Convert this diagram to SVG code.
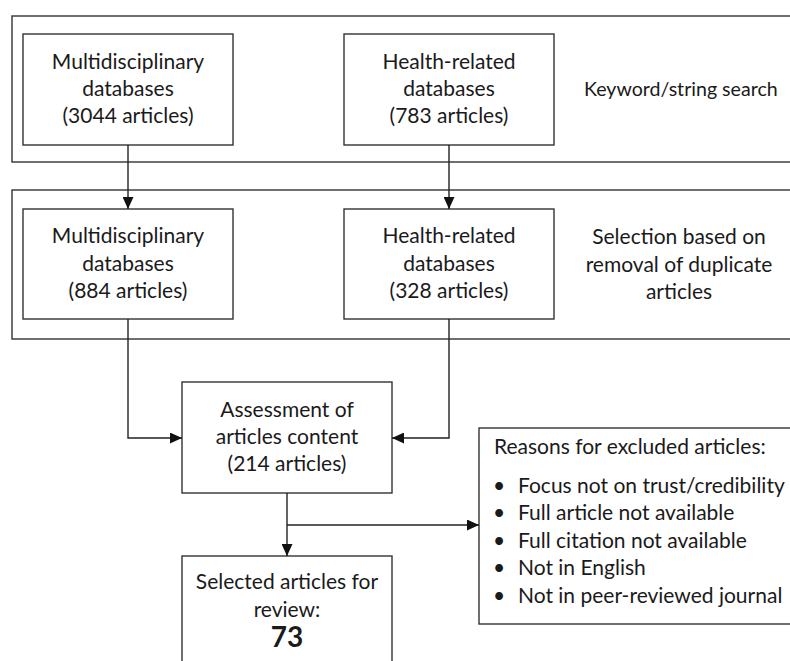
<svg xmlns="http://www.w3.org/2000/svg" width="790" height="661" viewBox="0 0 790 661">
<defs>
<style>
.box{fill:#fff;stroke:#333;stroke-width:1.4}
.frame{fill:none;stroke:#333;stroke-width:1.4}
.t{font-family:Lato,"Liberation Sans",sans-serif;font-size:21px;fill:#1a1a1a;text-anchor:middle}
.l{text-anchor:start}
.big{font-size:28px;font-weight:bold}
.conn{fill:none;stroke:#222;stroke-width:1.4}
</style>
<marker id="arr" markerUnits="userSpaceOnUse" markerWidth="12" markerHeight="11" refX="12" refY="5.5" orient="auto">
<path d="M0,0 L12,5.5 L0,11 z" fill="#111"/>
</marker>
</defs>
<rect width="790" height="661" fill="#fff"/>
<g id="stage1">
<rect class="frame" x="12" y="16" width="800" height="146"/>
<text class="t l" x="584" y="96" style="font-size:19.6px">Keyword/string search</text>
</g>
<g id="stage2">
<rect class="frame" x="12" y="190" width="800" height="149"/>
<text class="t" x="679" y="244">Selection based on</text>
<text class="t" x="679" y="272">removal of duplicate</text>
<text class="t" x="679" y="299">articles</text>
</g>
<g id="multi1">
<rect class="box" x="23" y="34" width="210" height="111"/>
<text class="t" x="128" y="69">Multidisciplinary</text>
<text class="t" x="128" y="96">databases</text>
<text class="t" x="128" y="123">(3044 articles)</text>
</g>
<g id="health1">
<rect class="box" x="344" y="34" width="210" height="111"/>
<text class="t" x="449" y="69">Health-related</text>
<text class="t" x="449" y="96">databases</text>
<text class="t" x="449" y="123">(783 articles)</text>
</g>
<g id="multi2">
<rect class="box" x="23" y="209" width="210" height="110"/>
<text class="t" x="128" y="243">Multidisciplinary</text>
<text class="t" x="128" y="271">databases</text>
<text class="t" x="128" y="298">(884 articles)</text>
</g>
<g id="health2">
<rect class="box" x="344" y="209" width="210" height="110"/>
<text class="t" x="449" y="243">Health-related</text>
<text class="t" x="449" y="271">databases</text>
<text class="t" x="449" y="298">(328 articles)</text>
</g>
<g id="assessment">
<rect class="box" x="182" y="382" width="210" height="111"/>
<text class="t" x="287" y="417">Assessment of</text>
<text class="t" x="287" y="444">articles content</text>
<text class="t" x="287" y="471">(214 articles)</text>
</g>
<g id="selected">
<rect class="box" x="182" y="556" width="210" height="120"/>
<text class="t" x="287" y="589">Selected articles for</text>
<text class="t" x="287" y="617">review:</text>
<text class="t big" x="287" y="647">73</text>
</g>
<g id="reasons">
<rect class="box" x="479" y="428" width="330" height="196"/>
<text class="t l" x="494" y="454">Reasons for excluded articles:</text>
<text class="t l" x="493" y="493">•</text>
<text class="t l" x="518" y="493">Focus not on trust/credibility</text>
<text class="t l" x="493" y="520">•</text>
<text class="t l" x="518" y="520">Full article not available</text>
<text class="t l" x="493" y="548">•</text>
<text class="t l" x="518" y="548">Full citation not available</text>
<text class="t l" x="493" y="575">•</text>
<text class="t l" x="518" y="575">Not in English</text>
<text class="t l" x="493" y="603">•</text>
<text class="t l" x="518" y="603">Not in peer-reviewed journal</text>
</g>
<g id="connectors">
<path class="conn" d="M128,145 V209" marker-end="url(#arr)"/>
<path class="conn" d="M449,145 V209" marker-end="url(#arr)"/>
<path class="conn" d="M128,319 V438 H182" marker-end="url(#arr)"/>
<path class="conn" d="M449,319 V438 H392" marker-end="url(#arr)"/>
<path class="conn" d="M287,493 V556" marker-end="url(#arr)"/>
<path class="conn" d="M287,525 H479" marker-end="url(#arr)"/>
</g>
</svg>
